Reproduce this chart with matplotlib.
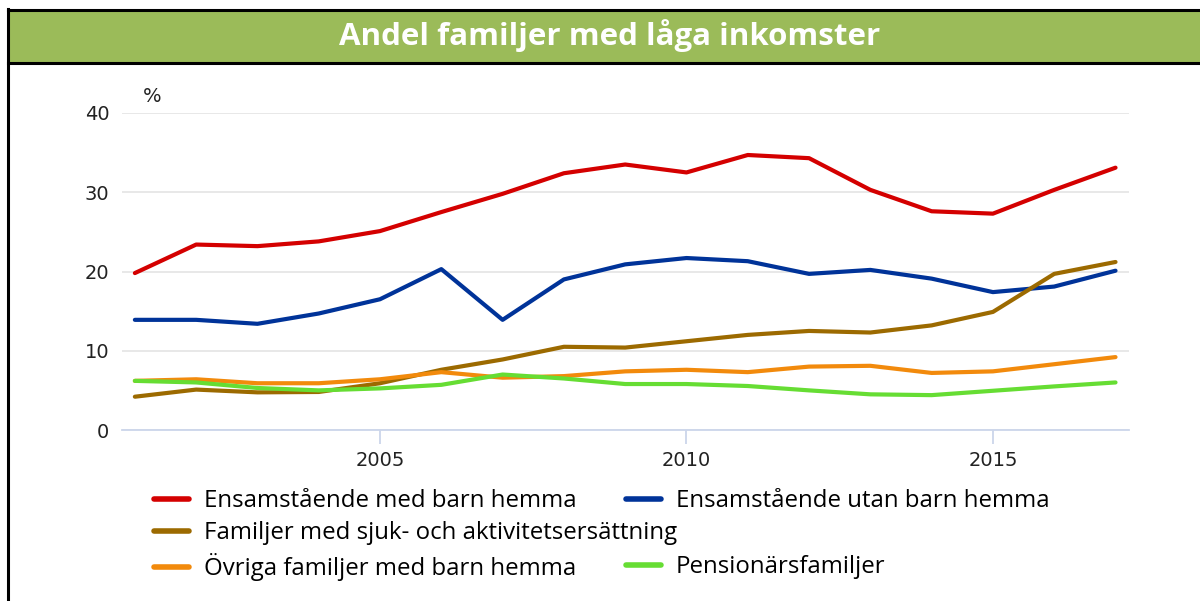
import matplotlib
matplotlib.use("Agg")
import matplotlib.pyplot as plt
from matplotlib.patches import Rectangle
from matplotlib.lines import Line2D

years = list(range(2001, 2018))
ensam_med_barn = [19.8, 23.4, 23.2, 23.8, 25.1, 27.5, 29.8, 32.4, 33.5, 32.5, 34.7, 34.3, 30.3, 27.6, 27.3, 30.3, 33.1]
ensam_utan_barn = [13.9, 13.9, 13.4, 14.7, 16.5, 20.3, 13.9, 19.0, 20.9, 21.7, 21.3, 19.7, 20.2, 19.1, 17.4, 18.1, 20.1]
sjuk_aktivitet = [4.2, 5.1, 4.75, 4.8, 5.9, 7.6, 8.9, 10.5, 10.4, 11.2, 12.0, 12.5, 12.3, 13.2, 14.9, 19.7, 21.2]
ovriga_barn = [6.2, 6.4, 5.9, 5.9, 6.4, 7.3, 6.6, 6.8, 7.4, 7.6, 7.3, 8.0, 8.1, 7.2, 7.4, 8.3, 9.2]
pension = [6.2, 6.0, 5.3, 5.0, 5.25, 5.7, 7.0, 6.5, 5.8, 5.8, 5.55, 5.0, 4.5, 4.4, 4.95, 5.5, 6.0]

labels = ["Ensamstående med barn hemma", "Ensamstående utan barn hemma",
          "Familjer med sjuk- och aktivitetsersättning",
          "Övriga familjer med barn hemma", "Pensionärsfamiljer"]
colors = ["#d40000", "#003399", "#9c6a00", "#f28a0c", "#66dd33"]
series = [ensam_med_barn, ensam_utan_barn, sjuk_aktivitet, ovriga_barn, pension]

title = "Andel familjer med låga inkomster"

fig = plt.figure(figsize=(12, 6.01), dpi=100)
W, H = 1200, 601

# title bar with black frame
fig.patches.append(Rectangle((8 / W, 1 - 63 / H), 1 - 8 / W, 53 / H, transform=fig.transFigure,
                             facecolor="#9bbb59", edgecolor="none", zorder=0))
for y in (10, 63):
    fig.add_artist(Line2D([8 / W, 1], [1 - y / H, 1 - y / H], color="black", lw=2.2))
fig.add_artist(Line2D([8 / W, 8 / W], [0, 1 - 9 / H], color="black", lw=2.2))
fig.text(610 / W, 1 - 36 / H, title, color="white", fontsize=22.5, fontweight="bold",
         family="Open Sans", ha="center", va="center")

ax = fig.add_axes([122 / W, 1 - 430 / H, 1007 / W, 317 / H])
handles = []
for vals, c, lab in zip(series, colors, labels):
    h, = ax.plot(years, vals, color=c, lw=3, label=lab, solid_capstyle="round",
                 solid_joinstyle="round", zorder=3)
    handles.append(h)

ax.set_xlim(2000.79, 2017.22)
ax.set_ylim(0, 40)
ax.set_yticks([0, 10, 20, 30, 40])
ax.set_xticks([2005, 2010, 2015])
ax.grid(axis="y", color="#e6e6e6", lw=1.3)
ax.set_axisbelow(True)
for s in ["top", "right", "left"]:
    ax.spines[s].set_visible(False)
ax.spines["bottom"].set_color("#ccd6eb")
ax.spines["bottom"].set_linewidth(1.3)
ax.tick_params(axis="y", length=0, pad=9, labelsize=14, labelcolor="#222222")
ax.tick_params(axis="x", length=10, width=1.3, color="#ccd6eb", pad=5, labelsize=14,
               labelcolor="#222222")
fig.text(152 / W, 1 - 97 / H, "%", fontsize=14, ha="center", va="center", color="#222222")

# legend, one entry per box to copy the wrapped layout
legend_pos = [(154, 501), (626, 501), (154, 533), (154, 567), (626, 567)]
for h, (x, y) in zip(handles, legend_pos):
    leg = fig.legend(handles=[h], loc="center left", bbox_to_anchor=(x / W, 1 - y / H),
                     frameon=False, handlelength=1.45, handletextpad=0.62,
                     prop={"family": "Open Sans", "size": 17.3}, borderaxespad=0,
                     borderpad=0)
    for line in leg.get_lines():
        line.set_linewidth(4)

fig.savefig("out.png", dpi=100)
